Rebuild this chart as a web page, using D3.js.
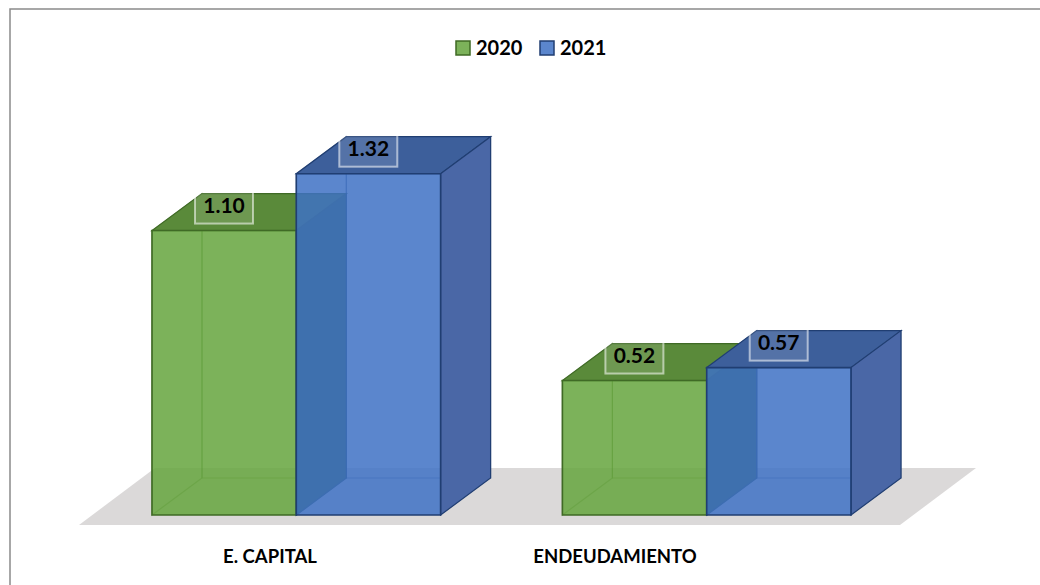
<!DOCTYPE html>
<html>
<head>
<meta charset="utf-8">
<script src="https://cdn.jsdelivr.net/npm/d3@7"></script>
<style>
  body { margin: 0; background: #fff; }
  text { font-family: Lato, "Open Sans", sans-serif; font-weight: bold; fill: #000; }
</style>
</head>
<body>
<div id="chart"></div>
<script>
// data
const categories = ["E. CAPITAL", "ENDEUDAMIENTO"];
const series = ["2020", "2021"];
const values2020 = [1.10, 0.52];
const values2021 = [1.32, 0.57];

const W = 1040, H = 585;
const depth = {dx: 50, dy: -37};

const colors = {
  "2020": {front: "#65a53d", legend: "#7cb25a", top: "#5a8a3a", side: "#3f6a30", edge: "#3f6a25"},
  "2021": {front: "#3e71c4", legend: "#5b86cd", top: "#3d5f9b", side: "#4a67a6", edge: "#203e72"}
};

const svg = d3.select("#chart").append("svg")
  .attr("width", W).attr("height", H);

// chart border
svg.append("rect")
  .attr("x", 10).attr("y", 9).attr("width", W + 20).attr("height", H + 20)
  .attr("fill", "none").attr("stroke", "#8a8a8a").attr("stroke-width", 1.5);

const x = d3.scaleBand().domain(categories).range([152, 851]).paddingInner(0.2968);
const xs = d3.scaleBand().domain(series).range([0, x.bandwidth()]);
const y = d3.scaleLinear().domain([0, 1.4]).range([515, 153]);
const labelX = d3.scalePoint().domain(categories).range([270, 615]);

// floor
const fl = 79, fr = 900, fy = 525, fd = 76, fdy = 57;
svg.append("path")
  .attr("d", `M${fl},${fy}L${fr},${fy}L${fr + fd},${fy - fdy}L${fl + fd},${fy - fdy}Z`)
  .attr("fill", "#dbd9d9");

const rows = [];
categories.forEach((c, i) => {
  rows.push({cat: c, s: "2020", v: values2020[i]});
  rows.push({cat: c, s: "2021", v: values2021[i]});
});

const poly = pts => "M" + pts.map(p => p.join(",")).join("L") + "Z";

rows.forEach(d => {
  const x0 = x(d.cat) + xs(d.s), x1 = x0 + xs.bandwidth();
  const y0 = y(0), y1 = y(d.v);
  const dx = depth.dx, dy = depth.dy;
  const col = colors[d.s];
  const g = svg.append("g");
  const face = (pts, fill, op) => g.append("path").attr("d", poly(pts))
    .attr("fill", fill).attr("fill-opacity", op)
    .attr("stroke", col.edge).attr("stroke-width", 1.2).attr("stroke-opacity", 0.45);
  // hidden edges (seen through the front)
  face([[x0 + dx, y0 + dy], [x1 + dx, y0 + dy], [x1 + dx, y1 + dy], [x0 + dx, y1 + dy]], "none", 0);
  face([[x0, y0], [x0 + dx, y0 + dy], [x0 + dx, y1 + dy], [x0, y1]], "none", 0);
  // visible faces
  face([[x0, y1], [x1, y1], [x1 + dx, y1 + dy], [x0 + dx, y1 + dy]], col.top, 1)
    .attr("stroke-opacity", 1);
  face([[x1, y0], [x1 + dx, y0 + dy], [x1 + dx, y1 + dy], [x1, y1]], col.side, 1)
    .attr("stroke-opacity", 1);
  face([[x0, y0], [x1, y0], [x1, y1], [x0, y1]], col.front, 0.85)
    .attr("stroke-opacity", 1).attr("stroke-width", 1.6);
});

// data labels
rows.forEach(d => {
  const cx = x(d.cat) + xs(d.s) + 72, cy = y(d.v) - 26;
  svg.append("rect")
    .attr("x", cx - 29).attr("y", cy - 19).attr("width", 58).attr("height", 38)
    .attr("fill", "#ffffff").attr("fill-opacity", 0.12)
    .attr("stroke", "#ffffff").attr("stroke-opacity", 0.55).attr("stroke-width", 2);
  svg.append("text")
    .attr("x", cx).attr("y", cy + 8)
    .attr("text-anchor", "middle").attr("font-size", 21)
    .text(d.v.toFixed(2));
});

// category labels
svg.selectAll(".cat").data(categories).enter().append("text")
  .attr("class", "cat")
  .attr("x", d => labelX(d)).attr("y", 563)
  .attr("text-anchor", "middle").attr("font-size", 18.5)
  .text(d => d);

// legend
const legendX = d3.scaleOrdinal().domain(series).range([456, 540]);
const lg = svg.selectAll(".lg").data(series).enter().append("g").attr("class", "lg");
lg.append("rect")
  .attr("x", d => legendX(d)).attr("y", 41).attr("width", 14).attr("height", 14)
  .attr("fill", d => colors[d].legend).attr("stroke", d => colors[d].edge).attr("stroke-width", 1.5);
lg.append("text")
  .attr("x", d => legendX(d) + 20).attr("y", 55)
  .attr("font-size", 20)
  .text(d => d);
</script>
</body>
</html>
